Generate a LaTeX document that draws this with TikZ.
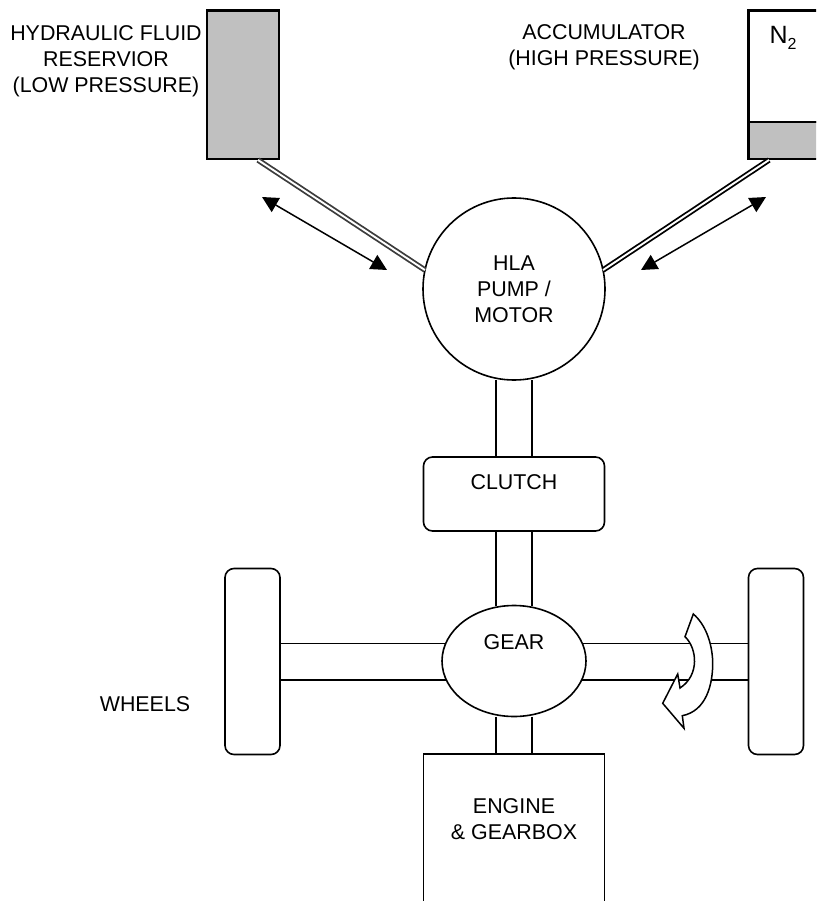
\documentclass[tikz,border=0pt]{standalone}
\usepackage{fontspec}
\setmainfont{Liberation Sans}
\usetikzlibrary{arrows.meta,positioning,shapes.geometric,backgrounds}
\definecolor{HLAGray}{RGB}{192,192,192}
\definecolor{HLAPipe}{RGB}{60,60,60}

\begin{document}
\begin{tikzpicture}[
  x=1pt, y=-1pt,
  every node/.style={font=\fontsize{21.4}{26}\selectfont, align=center, outer sep=0pt},
  tank/.style={rectangle, draw=black, line width=2.4pt, inner sep=0pt},
  unit/.style={rectangle, rounded corners=9pt, draw=black, line width=1.6pt, fill=white, inner sep=0pt},
  shaft/.style={draw=black, line width=1.7pt, double=white, double distance=34.6pt},
  pipe/.style={line width=1.8pt, double=white, double distance=1.9pt},
  flow/.style={{Triangle[length=16pt,width=16pt]}-{Triangle[length=16pt,width=16pt]}, line width=1.5pt}
]
\useasboundingbox (0,0) rectangle (816,901);
\clip (0,0) rectangle (816,901);

% tanks
\node[tank, fill=HLAGray, minimum width=72.5pt, minimum height=148.5pt] (reservoir) at (243,84.7) {};
\node[tank, fill=white, minimum width=120pt, minimum height=111.5pt, anchor=north west] (gas) at (748.3,10.5) {};
\node[tank, fill=HLAGray, minimum width=120pt, minimum height=37pt, anchor=north west] (oil) at (748.3,122) {};
\node[font=\fontsize{25}{25}\selectfont] (nitrogen) at (783,38) {N\raisebox{-6pt}{\fontsize{16}{16}\selectfont 2}};

% drive line
\node[circle, draw=black, line width=1.6pt, fill=white, minimum size=182pt, inner sep=0pt] (hla) at (514,289) {HLA\\PUMP /\\MOTOR};
\node[unit, minimum width=181pt, minimum height=74pt, anchor=north] (clutch) at (514,457) {};
\node (clutchtext) at (514,482) {CLUTCH};
\node[ellipse, draw=black, line width=1.6pt, fill=white, minimum width=144pt, minimum height=111pt, inner sep=0pt] (gear) at (514,661) {};
\node (geartext) at (514,642.5) {GEAR};
\node[unit, minimum width=55pt, minimum height=186pt] (wheelleft) at (252.5,661.5) {};
\node[unit, minimum width=55pt, minimum height=186pt] (wheelright) at (776,661.5) {};
\node[rectangle, draw=black, line width=1.8pt, fill=white, minimum width=181pt, minimum height=190pt, anchor=north] (engine) at (514,754) {};
\node (enginetext) at (514,819) {ENGINE\\\& GEARBOX};

% labels
\node (reservoirtext) at (106,61.5) {HYDRAULIC FLUID\\RESERVIOR\\(LOW PRESSURE)};
\node (accumulatortext) at (604,47.5) {ACCUMULATOR\\(HIGH PRESSURE)};
\node (wheelstext) at (145,704) {WHEELS};

\coordinate (reservoirport) at (258,160);
\coordinate (accumulatorport) at (769,160);
\coordinate (leftback) at (262,197);
\coordinate (leftfront) at (387,270);
\coordinate (rightback) at (766,197);
\coordinate (rightfront) at (641,270);

\begin{scope}[on background layer]
\draw[shaft] (hla) -- (clutch);
\draw[shaft] (clutch) -- (gear);
\draw[shaft] (gear) -- (engine);
\draw[shaft] (wheelleft) -- (wheelright);
\end{scope}

\draw[pipe, draw=HLAPipe] (reservoirport) -- (hla.168);
\draw[pipe, draw=black] (accumulatorport) -- (hla.12);
\draw[flow] (leftback) -- (leftfront);
\draw[flow] (rightback) -- (rightfront);

% rotation arrow
\draw[line width=1.5pt, line join=miter, fill=white] (693.3,614) -- (685,636.7)
  .. controls (697,648) and (700,675) .. (680,688)
  -- (677.7,674) -- (662.7,703.3) -- (684,728.3) -- (682.3,715.7)
  .. controls (706,711) and (713,685) .. (712.7,661.7)
  .. controls (712,642) and (705,624) .. (693.3,614) -- cycle;
\end{tikzpicture}
\end{document}
